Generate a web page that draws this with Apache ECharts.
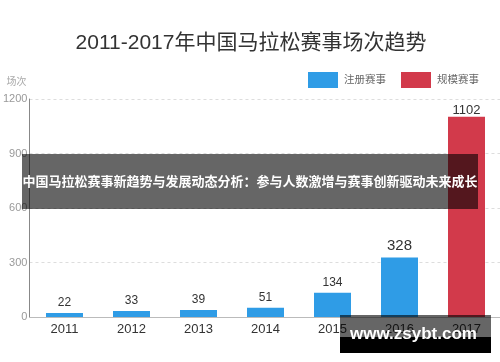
<!DOCTYPE html>
<html>
<head>
<meta charset="utf-8">
<script src="https://cdn.jsdelivr.net/npm/echarts@6/dist/echarts.min.js"></script>
<style>
html,body{margin:0;padding:0;background:#fff;}
#chart{width:500px;height:362px;}
</style>
</head>
<body>
<div id="chart"></div>
<script>
var categories = ['2011', '2012', '2013', '2014', '2015', '2016', '2017'];
var registeredEvents = [22, 33, 39, 51, 134, 328, null];
var scaleEvents = [null, null, null, null, null, null, 1102];
var seriesNames = ['注册赛事', '规模赛事'];
var yTicks = [0, 300, 600, 900, 1200];
var titleText = '2011-2017年中国马拉松赛事场次趋势';
var yAxisName = '场次';
var bannerText = '中国马拉松赛事新趋势与发展动态分析：参与人数激增与赛事创新驱动未来成长';
var watermarkText = 'www.zsybt.com';

var FONT = '"Liberation Sans", "Noto Sans CJK SC", sans-serif';
var labelSizes = [12, 12, 12, 12, 12, 15, 13];

function withLabels(arr) {
  return arr.map(function (v, i) {
    if (v === null) return null;
    return { value: v, label: { fontSize: labelSizes[i] } };
  });
}

var yMin = yTicks[0], yMax = yTicks[yTicks.length - 1], yStep = yTicks[1] - yTicks[0];

var chart = echarts.init(document.getElementById('chart'), null, { renderer: 'canvas' });
chart.setOption({
  animation: false,
  backgroundColor: '#fff',
  title: {
    text: titleText,
    left: 246,
    textAlign: 'center',
    top: 28,
    textStyle: { fontFamily: FONT, fontSize: 21, fontWeight: 'normal', color: '#333' }
  },
  legend: {
    data: seriesNames,
    right: 16,
    top: 67,
    icon: 'rect',
    itemWidth: 30,
    itemHeight: 16,
    itemGap: 15,
    itemStyle: { borderWidth: 0 },
    textStyle: { fontFamily: FONT, fontSize: 10.5, color: '#666', padding: [0, 0, 0, 1] }
  },
  grid: [
    { left: 31, width: 471, top: 99, bottom: 45, containLabel: false },
    { left: 24, right: 0, top: 99, bottom: 45, containLabel: false }
  ],
  xAxis: [
    {
      gridIndex: 0,
      type: 'category',
      data: categories,
      axisLine: { show: false },
      axisTick: { show: false },
      axisLabel: { fontFamily: FONT, fontSize: 13, color: '#333', margin: 6 }
    },
    {
      gridIndex: 1,
      type: 'category',
      data: categories,
      axisLine: { show: true, lineStyle: { color: '#bbb' } },
      axisTick: { show: false },
      axisLabel: { show: false },
      splitLine: { show: false }
    }
  ],
  yAxis: [
    {
      gridIndex: 0,
      type: 'value',
      min: yMin, max: yMax, interval: yStep,
      axisLine: { show: false },
      axisTick: { show: false },
      axisLabel: { show: false },
      splitLine: { show: false }
    },
    {
      gridIndex: 1,
      type: 'value',
      min: yMin, max: yMax, interval: yStep,
      name: yAxisName,
      nameLocation: 'end',
      nameGap: 12,
      nameTextStyle: { fontFamily: FONT, fontSize: 10, color: '#aaa', align: 'left', padding: [0, 0, 0, -23] },
      axisLine: { show: true, lineStyle: { color: '#888' } },
      axisTick: { show: false },
      axisLabel: {
        fontFamily: FONT, fontSize: 11, color: '#999', margin: 2,
        formatter: function (v) { return String(v); }
      },
      splitLine: { lineStyle: { color: '#ddd', type: [3, 3] } }
    }
  ],
  series: [
    {
      name: seriesNames[0],
      type: 'bar',
      xAxisIndex: 0, yAxisIndex: 0,
      data: withLabels(registeredEvents),
      barWidth: 37,
      barGap: '-100%',
      z: 3,
      itemStyle: { color: '#2f9ce6' },
      label: { show: true, position: 'top', distance: 4, color: '#333', fontFamily: FONT }
    },
    {
      name: seriesNames[1],
      type: 'bar',
      xAxisIndex: 0, yAxisIndex: 0,
      data: withLabels(scaleEvents),
      barWidth: 37,
      barGap: '-100%',
      z: 3,
      itemStyle: { color: '#d23a4b' },
      label: { show: true, position: 'top', distance: 0, color: '#333', fontFamily: FONT }
    }
  ],
  graphic: [
    {
      type: 'rect',
      left: 22, top: 154, z: 100,
      shape: { width: 456, height: 55 },
      style: { fill: 'rgba(0,0,0,0.6)' }
    },
    {
      type: 'text',
      left: 'center', top: 175, z: 101,
      style: { text: bannerText, fill: '#fff', font: 'bold 13px "Noto Sans CJK SC", sans-serif' }
    },
    {
      type: 'rect',
      left: 340, top: 315, z: 100,
      shape: { width: 151, height: 22 },
      style: { fill: 'rgba(0,0,0,0.6)' }
    },
    {
      type: 'rect',
      left: 340, top: 337, z: 100,
      shape: { width: 151, height: 16 },
      style: { fill: '#000' }
    },
    {
      type: 'text',
      left: 350, top: 326, z: 101,
      style: { text: watermarkText, fill: '#fff', font: 'bold 17px "Liberation Sans", sans-serif' }
    }
  ]
});
</script>
</body>
</html>
